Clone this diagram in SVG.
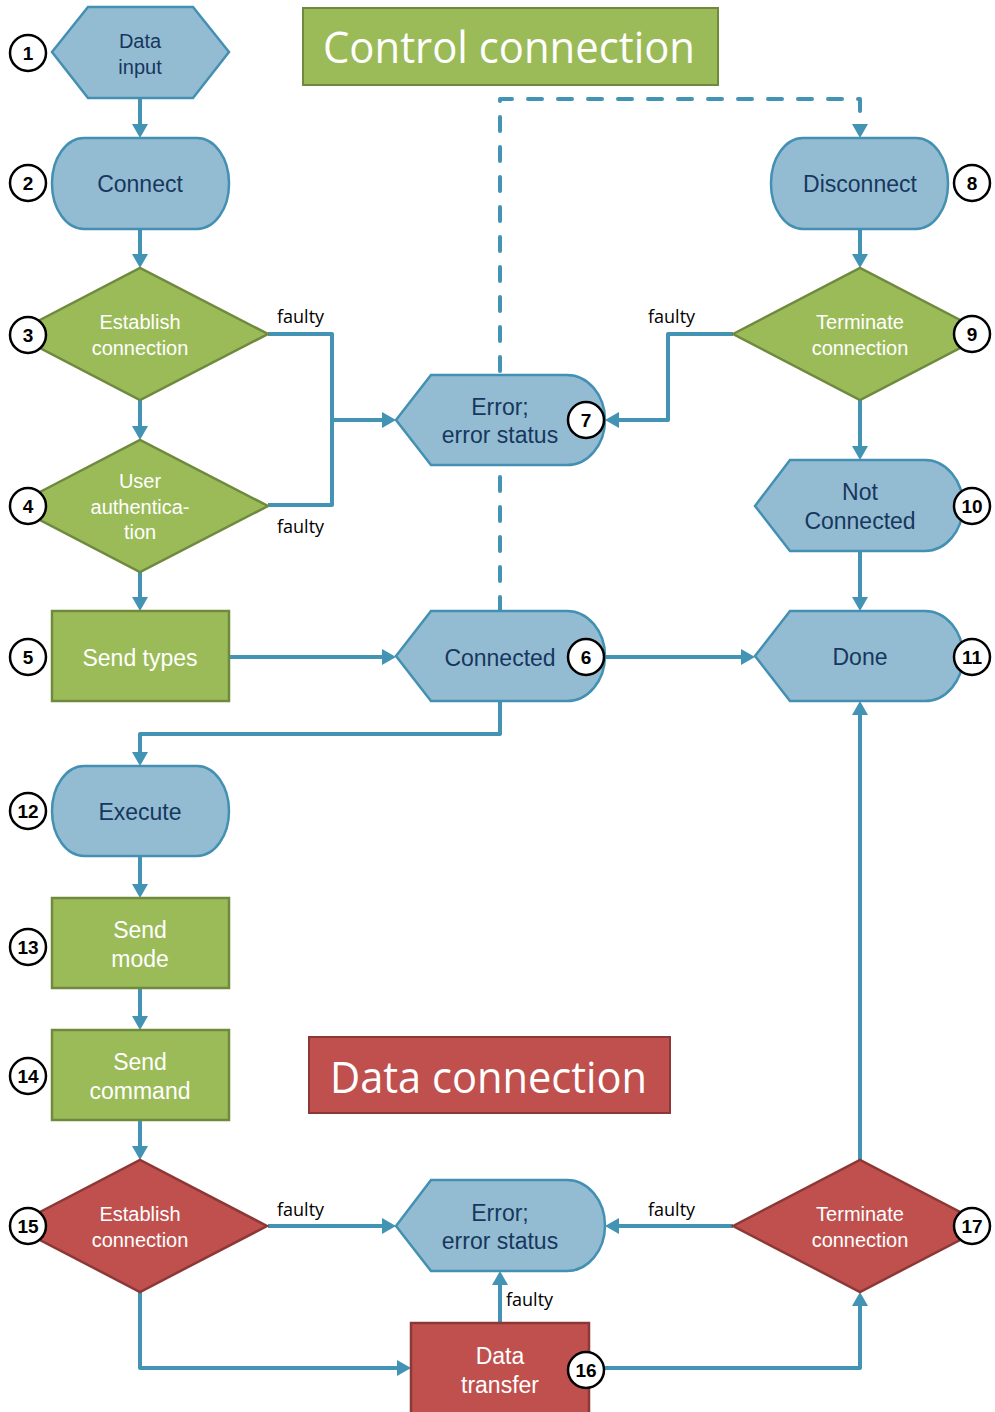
<svg xmlns="http://www.w3.org/2000/svg" width="995" height="1412" viewBox="0 0 995 1412">
  <defs>
    <marker id="arrow" markerUnits="userSpaceOnUse" markerWidth="16" markerHeight="16" refX="2" refY="8" orient="auto">
      <path d="M0,0 L14,8 L0,16 Z" fill="#4393B5"/>
    </marker>
    <style>
      .bg { fill: #ffffff; }
      .blue { fill: #93BCD3; stroke: #4390B2; stroke-width: 2.5; }
      .green { fill: #9BBB59; stroke: #6F8A3E; stroke-width: 2.5; }
      .red { fill: #C0504D; stroke: #8C3836; stroke-width: 2.5; }
      .tb { font-family: "Liberation Sans", Arial, sans-serif; font-size: 23px; fill: #17375E; text-anchor: middle; }
      .tbs { font-family: "Liberation Sans", Arial, sans-serif; font-size: 20px; fill: #17375E; text-anchor: middle; }
      .tw { font-family: "Liberation Sans", Arial, sans-serif; font-size: 23px; fill: #ffffff; text-anchor: middle; }
      .tws { font-family: "Liberation Sans", Arial, sans-serif; font-size: 20px; fill: #ffffff; text-anchor: middle; }
      .title { font-family: "Open Sans", "Liberation Sans", sans-serif; font-size: 44px; fill: #ffffff; }
      .lbl { font-family: "Open Sans", "Liberation Sans", sans-serif; font-size: 18px; fill: #000000; }
      .num circle { fill: #ffffff; stroke: #000000; stroke-width: 2.5; }
      .num text { font-family: "Liberation Sans", Arial, sans-serif; font-weight: bold; font-size: 19px; fill: #000000; text-anchor: middle; }
      .conn { fill: none; stroke: #4393B5; stroke-width: 4; stroke-linejoin: round; }
      .arr { marker-end: url(#arrow); }
      .dash { stroke-dasharray: 14 16; stroke-linecap: round; }
    </style>
  </defs>

  <rect class="bg" x="0" y="0" width="995" height="1412"/>

  <!-- connectors -->
  <g id="connectors">
    <path class="conn dash arr" d="M500,611 V99 H860 V126"/>
    <path class="conn arr" d="M140,98 V126"/>
    <path class="conn arr" d="M140,229 V256"/>
    <path class="conn arr" d="M140,400 V428"/>
    <path class="conn arr" d="M140,572 V599"/>
    <path class="conn" d="M268,334 H332 V505 H268"/>
    <path class="conn arr" d="M332,420 H384"/>
    <path class="conn arr" d="M229,657 H384"/>
    <path class="conn arr" d="M605,657 H743"/>
    <path class="conn arr" d="M500,701 V734 H140 V754"/>
    <path class="conn arr" d="M860,229 V256"/>
    <path class="conn arr" d="M733,334 H668 V420 H617"/>
    <path class="conn arr" d="M860,400 V448"/>
    <path class="conn arr" d="M860,551 V599"/>
    <path class="conn arr" d="M140,856 V886"/>
    <path class="conn arr" d="M140,988 V1018"/>
    <path class="conn arr" d="M140,1120 V1148"/>
    <path class="conn arr" d="M268,1226 H384"/>
    <path class="conn arr" d="M140,1292 V1368 H399"/>
    <path class="conn arr" d="M500,1323 V1283"/>
    <path class="conn arr" d="M605,1368 H860 V1304"/>
    <path class="conn arr" d="M733,1226 H617"/>
    <path class="conn arr" d="M860,1160 V713"/>
    <text class="lbl" x="277" y="323">faulty</text>
    <text class="lbl" x="277" y="533">faulty</text>
    <text class="lbl" x="648" y="323">faulty</text>
    <text class="lbl" x="277" y="1216">faulty</text>
    <text class="lbl" x="648" y="1216">faulty</text>
    <text class="lbl" x="506" y="1306">faulty</text>
  </g>

  <!-- section titles -->
  <g id="title-control">
    <rect x="303" y="8" width="415" height="77" fill="#9BBB59" stroke="#6F8A3E" stroke-width="2"/>
    <text class="title" x="323" y="63" textLength="372" lengthAdjust="spacingAndGlyphs">Control connection</text>
  </g>
  <g id="title-data">
    <rect x="309" y="1037" width="361" height="76" fill="#C0504D" stroke="#8C3836" stroke-width="2"/>
    <text class="title" x="330" y="1093" textLength="317" lengthAdjust="spacingAndGlyphs">Data connection</text>
  </g>

  <!-- nodes -->
  <g id="n1">
    <path class="blue" d="M52,52 L88,7 L193,7 L229,52 L193,98 L88,98 Z"/>
    <text class="tbs" x="140" y="48">Data</text>
    <text class="tbs" x="140" y="74">input</text>
    <g class="num"><circle cx="28" cy="53" r="18"/><text x="28" y="60">1</text></g>
  </g>
  <g id="n2">
    <rect class="blue" x="52" y="138" width="177" height="91" rx="32" ry="45"/>
    <text class="tb" x="140" y="192">Connect</text>
    <g class="num"><circle cx="28" cy="183" r="18"/><text x="28" y="190">2</text></g>
  </g>
  <g id="n3">
    <path class="green" d="M13,334 L140,268 L268,334 L140,400 Z"/>
    <text class="tws" x="140" y="329">Establish</text>
    <text class="tws" x="140" y="355">connection</text>
    <g class="num"><circle cx="28" cy="335" r="18"/><text x="28" y="342">3</text></g>
  </g>
  <g id="n4">
    <path class="green" d="M13,506 L140,440 L268,506 L140,572 Z"/>
    <text class="tws" x="140" y="488">User</text>
    <text class="tws" x="140" y="514">authentica-</text>
    <text class="tws" x="140" y="539">tion</text>
    <g class="num"><circle cx="28" cy="506" r="18"/><text x="28" y="513">4</text></g>
  </g>
  <g id="n5">
    <rect class="green" x="52" y="611" width="177" height="90"/>
    <text class="tw" x="140" y="666">Send types</text>
    <g class="num"><circle cx="28" cy="657" r="18"/><text x="28" y="664">5</text></g>
  </g>
  <g id="n6">
    <path class="blue" d="M396,656 L431,611 L567,611 A38,45 0 0 1 567,701 L431,701 Z"/>
    <text class="tb" x="500" y="666">Connected</text>
    <g class="num"><circle cx="586" cy="657" r="18"/><text x="586" y="664">6</text></g>
  </g>
  <g id="n7">
    <path class="blue" d="M396,420 L431,375 L567,375 A38,45 0 0 1 567,465 L431,465 Z"/>
    <text class="tb" x="500" y="415">Error;</text>
    <text class="tb" x="500" y="443">error status</text>
    <g class="num"><circle cx="586" cy="420" r="18"/><text x="586" y="427">7</text></g>
  </g>
  <g id="n8">
    <rect class="blue" x="771" y="138" width="177" height="91" rx="32" ry="45"/>
    <text class="tb" x="860" y="192">Disconnect</text>
    <g class="num"><circle cx="972" cy="183" r="18"/><text x="972" y="190">8</text></g>
  </g>
  <g id="n9">
    <path class="green" d="M733,334 L860,268 L987,334 L860,400 Z"/>
    <text class="tws" x="860" y="329">Terminate</text>
    <text class="tws" x="860" y="355">connection</text>
    <g class="num"><circle cx="972" cy="334" r="18"/><text x="972" y="341">9</text></g>
  </g>
  <g id="n10">
    <path class="blue" d="M755,506 L790,460 L925,460 A38,45.5 0 0 1 925,551 L790,551 Z"/>
    <text class="tb" x="860" y="500">Not</text>
    <text class="tb" x="860" y="529">Connected</text>
    <g class="num"><circle cx="972" cy="506" r="18"/><text x="972" y="513">10</text></g>
  </g>
  <g id="n11">
    <path class="blue" d="M755,656 L790,611 L925,611 A38,45 0 0 1 925,701 L790,701 Z"/>
    <text class="tb" x="860" y="665">Done</text>
    <g class="num"><circle cx="972" cy="657" r="18"/><text x="972" y="664">11</text></g>
  </g>
  <g id="n12">
    <rect class="blue" x="52" y="766" width="177" height="90" rx="32" ry="45"/>
    <text class="tb" x="140" y="820">Execute</text>
    <g class="num"><circle cx="28" cy="811" r="18"/><text x="28" y="818">12</text></g>
  </g>
  <g id="n13">
    <rect class="green" x="52" y="898" width="177" height="90"/>
    <text class="tw" x="140" y="938">Send</text>
    <text class="tw" x="140" y="967">mode</text>
    <g class="num"><circle cx="28" cy="947" r="18"/><text x="28" y="954">13</text></g>
  </g>
  <g id="n14">
    <rect class="green" x="52" y="1030" width="177" height="90"/>
    <text class="tw" x="140" y="1070">Send</text>
    <text class="tw" x="140" y="1099">command</text>
    <g class="num"><circle cx="28" cy="1076" r="18"/><text x="28" y="1083">14</text></g>
  </g>
  <g id="n15">
    <path class="red" d="M13,1226 L140,1160 L267,1226 L140,1292 Z"/>
    <text class="tws" x="140" y="1221">Establish</text>
    <text class="tws" x="140" y="1247">connection</text>
    <g class="num"><circle cx="28" cy="1226" r="18"/><text x="28" y="1233">15</text></g>
  </g>
  <g id="n-error-data">
    <path class="blue" d="M396,1226 L431,1180 L567,1180 A38,45.5 0 0 1 567,1271 L431,1271 Z"/>
    <text class="tb" x="500" y="1221">Error;</text>
    <text class="tb" x="500" y="1249">error status</text>
  </g>
  <g id="n16">
    <rect class="red" x="411" y="1323" width="178" height="100"/>
    <text class="tw" x="500" y="1364">Data</text>
    <text class="tw" x="500" y="1393">transfer</text>
    <g class="num"><circle cx="586" cy="1370" r="18"/><text x="586" y="1377">16</text></g>
  </g>
  <g id="n17">
    <path class="red" d="M733,1226 L860,1160 L987,1226 L860,1292 Z"/>
    <text class="tws" x="860" y="1221">Terminate</text>
    <text class="tws" x="860" y="1247">connection</text>
    <g class="num"><circle cx="972" cy="1226" r="18"/><text x="972" y="1233">17</text></g>
  </g>
</svg>
